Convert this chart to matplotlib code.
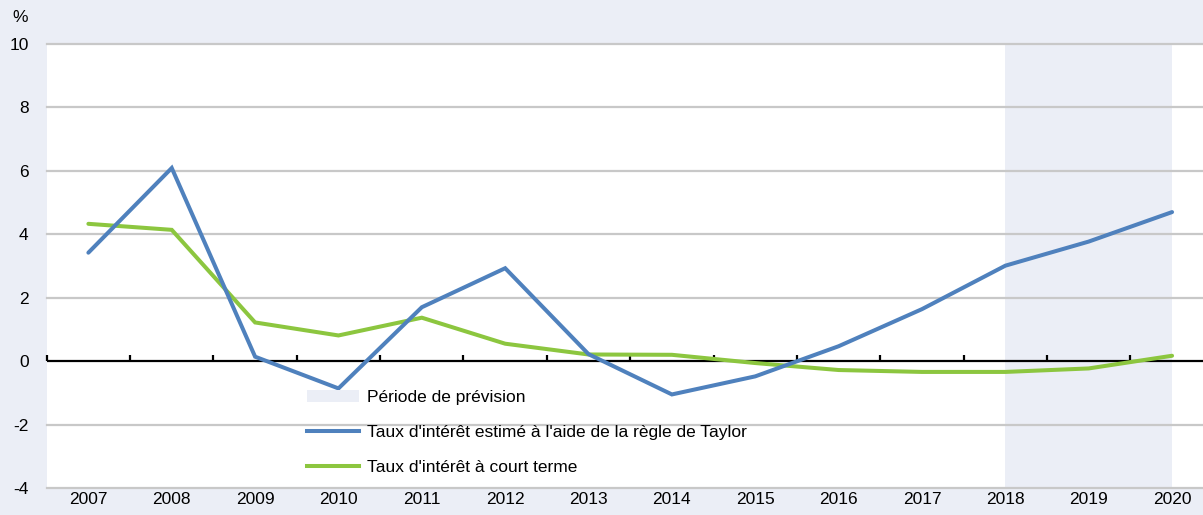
import matplotlib
matplotlib.use("Agg")
import matplotlib.pyplot as plt
from matplotlib.patches import Patch
from matplotlib.lines import Line2D

years = ["2007", "2008", "2009", "2010", "2011", "2012", "2013", "2014",
         "2015", "2016", "2017", "2018", "2019", "2020"]
taylor_rate = [3.42, 6.09, 0.14, -0.86, 1.70, 2.93, 0.22, -1.05,
               -0.48, 0.47, 1.64, 3.01, 3.77, 4.70]
short_rate = [4.33, 4.14, 1.22, 0.81, 1.37, 0.55, 0.21, 0.20,
              -0.06, -0.28, -0.34, -0.34, -0.23, 0.17]
forecast_start, forecast_end = "2018", "2020"
yticks = [-4, -2, 0, 2, 4, 6, 8, 10]

label_forecast = "Période de prévision"
label_taylor = "Taux d'intérêt estimé à l'aide de la règle de Taylor"
label_short = "Taux d'intérêt à court terme"

BG = "#EBEEF6"
BLUE = "#4F81BD"
GREEN = "#8CC63F"
GRID = "#C8C8C8"

plt.rcParams["font.family"] = ["Liberation Sans", "DejaVu Sans"]
plt.rcParams["font.size"] = 12.5

W, H = 1203, 515
fig = plt.figure(figsize=(W / 100, H / 100), dpi=100, facecolor=BG)
left, right, top, bottom = 46.7, 1203, 44, 488
ax = fig.add_axes([left / W, (H - bottom) / H, (right - left) / W, (bottom - top) / H])
ax.set_facecolor("white")

x = list(range(len(years)))
step = 83.36
ax.set_xlim(-0.5, -0.5 + (right - left) / step)
ax.set_ylim(min(yticks), max(yticks))

# forecast shading
ax.axvspan(years.index(forecast_start), years.index(forecast_end), color=BG, lw=0, zorder=0.5)

# gridlines
for yv in yticks:
    if yv != 0:
        ax.axhline(yv, color=GRID, lw=1.6, zorder=0.6, clip_on=False)
ax.axhline(0, color="black", lw=1.6, zorder=1)
# tick marks on zero line between categories
bounds = [i - 0.5 for i in x]
ax.vlines(bounds, 0, 0.2, color="black", lw=1.6, zorder=1, clip_on=False)

ax.plot(x, taylor_rate, color=BLUE, lw=2.9, solid_capstyle="round", solid_joinstyle="miter", zorder=3)
ax.plot(x, short_rate, color=GREEN, lw=2.9, solid_capstyle="round", solid_joinstyle="miter", zorder=2)

for s in ax.spines.values():
    s.set_visible(False)

ax.set_xticks(x)
ax.set_xticklabels(years)
ax.set_yticks(yticks)
ax.set_yticklabels([str(v) for v in yticks])
ax.tick_params(axis="x", length=0, pad=3, labelsize=12.5)
ax.tick_params(axis="y", length=0, pad=13, labelsize=12.5)
for lab in ax.get_yticklabels():
    lab.set_horizontalalignment("right")

fig.text(20 / W, 1 - 18 / H, "%", ha="center", va="center", fontsize=12.5)

handles = [
    Patch(facecolor=BG, edgecolor="none", label=label_forecast),
    Line2D([0], [0], color=BLUE, lw=2.9, label=label_taylor),
    Line2D([0], [0], color=GREEN, lw=2.9, label=label_short),
]
leg = fig.legend(handles=handles, loc="upper left",
                 bbox_to_anchor=(307 / W, 1 - 390 / H),
                 frameon=False, borderpad=0, borderaxespad=0,
                 handlelength=3.0, handleheight=0.65, handletextpad=0.45,
                 labelspacing=1.15, fontsize=12.5)

fig.savefig("out.png", dpi=100, facecolor=BG)
